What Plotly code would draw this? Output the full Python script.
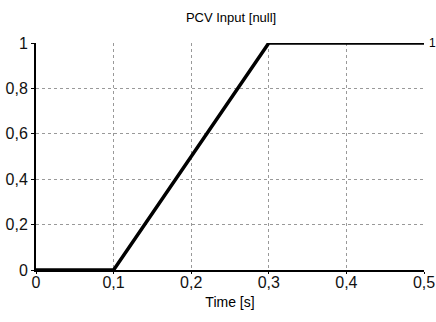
import plotly.graph_objects as go

time_s = [0.0, 0.1, 0.3, 0.5]
pcv_input = [0.0, 0.0, 1.0, 1.0]
x_ticks = [0, 0.1, 0.2, 0.3, 0.4, 0.5]
x_tick_labels = ["0", "0,1", "0,2", "0,3", "0,4", "0,5"]
y_ticks = [0, 0.2, 0.4, 0.6, 0.8, 1]
y_tick_labels = ["0", "0,2", "0,4", "0,6", "0,8", "1"]

fig = go.Figure()
fig.add_trace(go.Scatter(x=time_s, y=pcv_input, mode="lines",
                         line=dict(color="black", width=3.5), showlegend=False,
                         cliponaxis=False))

font_fam = "Liberation Sans Narrow, Arial Narrow, Liberation Sans, Arial, sans-serif"
fig.update_layout(
    width=436, height=322,
    margin=dict(l=36, r=12, t=43, b=52),
    paper_bgcolor="white", plot_bgcolor="white",
    title=dict(text="PCV Input [null]", x=0.53, xanchor="center", y=0.945, yanchor="middle",
               font=dict(family="Liberation Sans, Arial, sans-serif", size=13, color="black")),
    font=dict(family=font_fam, color="black"),
    xaxis=dict(range=[0, 0.5], tickvals=x_ticks, ticktext=x_tick_labels,
               automargin=False,
               showgrid=True, gridcolor="#999", griddash="dot", gridwidth=1,
               showline=True, linecolor="black", linewidth=2,
               ticks="outside", ticklen=2, tickcolor="black",
               ticklabelstandoff=-5,
               tickfont=dict(size=16, family=font_fam, color="#111"),
               title=dict(text="Time [s]", font=dict(size=14, family="Liberation Sans, Arial, sans-serif"), standoff=7),
               zeroline=False),
    yaxis=dict(range=[0, 1], tickvals=y_ticks, ticktext=y_tick_labels,
               automargin=False,
               showgrid=True, gridcolor="#999", griddash="dot", gridwidth=1,
               showline=True, linecolor="black", linewidth=2,
               ticks="outside", ticklen=3, tickcolor="black",
               tickfont=dict(size=16, family=font_fam, color="#111"),
               zeroline=False),
    annotations=[dict(x=1, y=1, xref="paper", yref="y", text="1", showarrow=False,
                      xanchor="left", xshift=3, font=dict(size=12, color="black"))],
)
fig.write_html("out.html")
